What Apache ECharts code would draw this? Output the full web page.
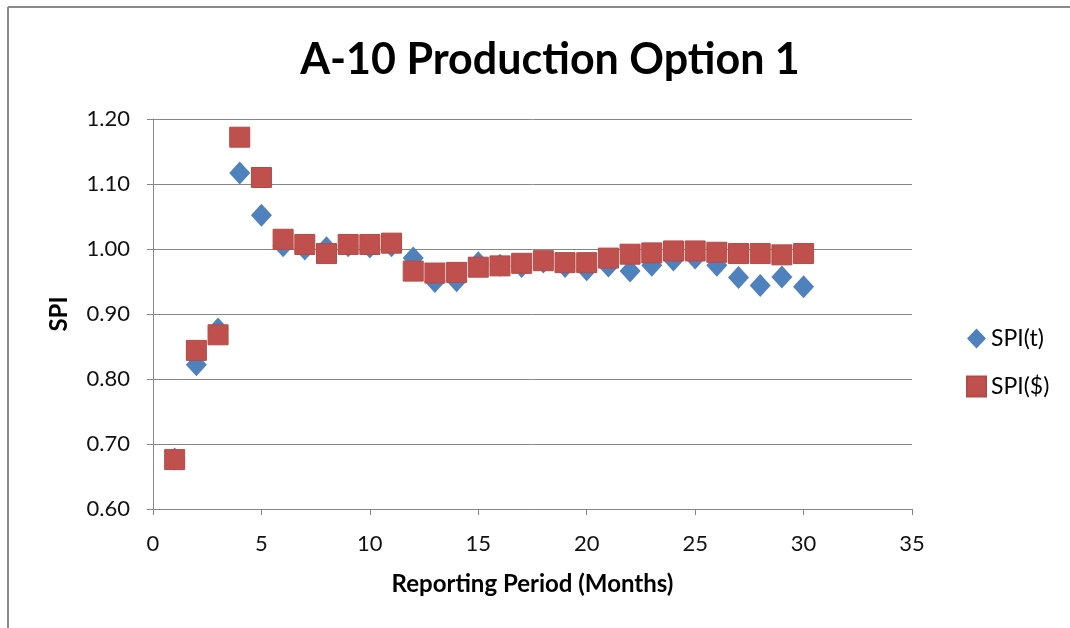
<!DOCTYPE html>
<html>
<head>
<meta charset="utf-8">
<script src="https://cdn.jsdelivr.net/npm/echarts@6/dist/echarts.min.js"></script>
<style>
  html, body { margin: 0; padding: 0; background: #fff; }
  #chart { width: 1070px; height: 628px; }
</style>
</head>
<body>
<div id="chart"></div>
<script>
var periods = [1,2,3,4,5,6,7,8,9,10,11,12,13,14,15,16,17,18,19,20,21,22,23,24,25,26,27,28,29,30];
var spiT = [0.677,0.822,0.877,1.117,1.052,1.005,1.000,1.002,1.005,1.003,1.005,0.986,0.950,0.951,0.979,0.975,0.973,0.980,0.973,0.968,0.974,0.966,0.975,0.983,0.986,0.975,0.956,0.944,0.957,0.942];
var spiD = [0.676,0.844,0.868,1.172,1.110,1.015,1.007,0.993,1.007,1.007,1.009,0.966,0.963,0.964,0.972,0.974,0.978,0.982,0.979,0.979,0.986,0.992,0.994,0.997,0.997,0.995,0.993,0.993,0.991,0.993];
var seriesNames = ['SPI(t)', 'SPI($)'];

function pairs(vals) {
  return periods.map(function(p, i){ return [p, vals[i]]; });
}

var font = 'Lato, "Open Sans", sans-serif';
var chart = echarts.init(document.getElementById('chart'));
chart.setOption({
  animation: false,
  title: {
    text: 'A-10 Production Option 1',
    left: 545, top: 34, textAlign: 'center',
    textStyle: { fontFamily: font, fontSize: 43, fontWeight: 'bold', color: '#000' }
  },
  legend: {
    orient: 'vertical', left: 961, top: 322, itemGap: 25,
    itemWidth: 19, itemHeight: 20,
    textStyle: { fontFamily: font, fontSize: 23, color: '#000' },
    data: [
      { name: seriesNames[0], icon: 'diamond' },
      { name: seriesNames[1], icon: 'rect' }
    ]
  },
  grid: { left: 153, right: 158, top: 119, bottom: 119 },
  xAxis: {
    type: 'value', min: 0, max: 35, interval: 5,
    name: 'Reporting Period (Months)', nameLocation: 'middle', nameGap: 63,
    nameTextStyle: { fontFamily: font, fontSize: 24, fontWeight: 'bold', color: '#000' },
    axisLine: { show: true, lineStyle: { color: '#868686', width: 1 } },
    axisTick: { show: true, length: 6, lineStyle: { color: '#868686' } },
    axisLabel: { fontFamily: font, fontSize: 22, color: '#111', margin: 24 },
    splitLine: { show: false }
  },
  yAxis: {
    type: 'value', min: 0.6, max: 1.2, interval: 0.1,
    name: 'SPI', nameLocation: 'middle', nameGap: 82, nameRotate: 90,
    nameTextStyle: { fontFamily: font, fontSize: 24, fontWeight: 'bold', color: '#000' },
    axisLine: { show: true, lineStyle: { color: '#868686', width: 1 } },
    axisTick: { show: true, length: 6, lineStyle: { color: '#868686' } },
    axisLabel: { fontFamily: font, fontSize: 22, color: '#111', margin: 23,
      formatter: function(v){ return v.toFixed(2); } },
    splitLine: { show: true, lineStyle: { color: '#868686', width: 1 } }
  },
  graphic: [
    { type: 'line', shape: { x1: 8, y1: 7, x2: 1070, y2: 7 }, style: { stroke: '#8a8a8a', lineWidth: 2 } },
    { type: 'line', shape: { x1: 8, y1: 7, x2: 8, y2: 628 }, style: { stroke: '#8a8a8a', lineWidth: 2 } }
  ],
  series: [
    {
      name: seriesNames[0], type: 'scatter', symbol: 'diamond', symbolSize: [21, 23],
      itemStyle: { color: '#4F81BD', opacity: 1 },
      data: pairs(spiT)
    },
    {
      name: seriesNames[1], type: 'scatter', symbol: 'rect', symbolSize: 20,
      itemStyle: { color: '#C0504D', borderColor: '#B44A47', borderWidth: 1, opacity: 1 },
      data: pairs(spiD)
    }
  ]
});
</script>
</body>
</html>
